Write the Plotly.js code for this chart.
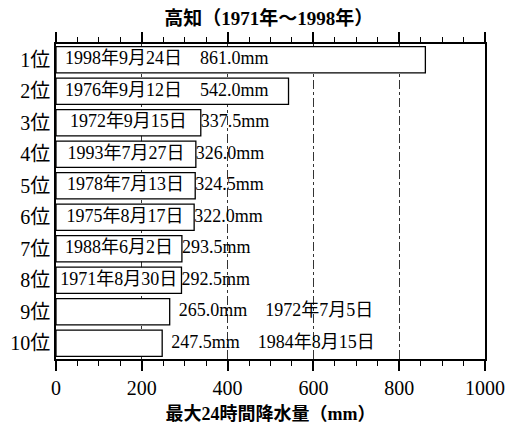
<!DOCTYPE html>
<html>
<head>
<meta charset="utf-8">
<script src="https://cdn.plot.ly/plotly-3.0.1.min.js"></script>
<style>html,body{margin:0;padding:0;background:#fff;}#chart{width:507px;height:430px;}</style>
</head>
<body>
<div id="chart"></div>
<script>
const ranks = ['1位','2位','3位','4位','5位','6位','7位','8位','9位','10位'];
const values = [861.0, 542.0, 337.5, 326.0, 324.5, 322.0, 293.5, 292.5, 265.0, 247.5];
const dates = ['1998年9月24日','1976年9月12日','1972年9月15日','1993年7月27日','1978年7月13日',
               '1975年8月17日','1988年6月2日','1971年8月30日','1972年7月5日','1984年8月15日'];
const xRange = [0, 1000];
const xMajorStep = 200;
const xMinorStep = 50;
const titleText = '高知（1971年～1998年）';
const xTitle = '最大24時間降水量（mm）';

const FONT = '"Liberation Serif", "Noto Sans CJK JP", serif';
const fmt = v => v.toFixed(1) + 'mm';
const tf = {family: FONT, size: 18, color: '#000'};

// label groups (derived from the data arrays)
const idxInside = [0, 1];                 // date + value inside the bar
const idxMid = [2, 3, 4, 5, 6, 7];        // date inside, value outside
const idxOut = [8, 9];                    // value and date outside

const textTrace = (xs, ys, texts, pos) => ({
  type: 'scatter', mode: 'text', x: xs, y: ys, text: texts, textposition: pos,
  textfont: tf, cliponaxis: false, hoverinfo: 'skip', showlegend: false
});

const traces = [
  {type: 'bar', orientation: 'h', x: values, y: ranks,
   marker: {color: '#fff', line: {color: '#000', width: 1.3}},
   hoverinfo: 'skip', showlegend: false},
  textTrace(idxInside.map(() => 0), idxInside.map(i => ranks[i]),
            idxInside.map(i => '\u2002' + dates[i] + '　' + fmt(values[i])), 'middle right'),
  textTrace(idxMid.map(i => values[i] / 2), idxMid.map(i => ranks[i]),
            idxMid.map(i => dates[i]), 'middle center'),
  textTrace(idxMid.map(i => values[i]), idxMid.map(i => ranks[i]),
            idxMid.map(i => fmt(values[i])), 'middle right'),
  textTrace(idxOut.map(i => values[i]), idxOut.map(i => ranks[i]),
            idxOut.map(i => '\u2002' + fmt(values[i]) + '　' + dates[i]), 'middle right')
];

const layout = {
  width: 507, height: 430,
  margin: {l: 56, r: 22, t: 44, b: 71},
  paper_bgcolor: '#fff', plot_bgcolor: '#fff',
  bargap: 0.17,
  showlegend: false,
  title: {text: '<b>' + titleText + '</b>', font: {family: FONT, size: 19, color: '#000'},
          x: 0.53, xanchor: 'center', y: 0.958, yanchor: 'middle'},
  xaxis: {range: xRange, dtick: xMajorStep,
          ticks: 'outside', ticklen: 10, tickwidth: 1.5, tickcolor: '#000',
          minor: {dtick: xMinorStep, ticks: 'outside', ticklen: 5, tickcolor: '#000', tickwidth: 1, showgrid: false},
          showline: true, mirror: 'ticks', linecolor: '#000', linewidth: 1.5,
          showgrid: true, gridcolor: '#333', griddash: 'dashdot', gridwidth: 1,
          zeroline: false,
          tickfont: {family: FONT, size: 20, color: '#000'},
          title: {text: '<b>' + xTitle + '</b>', font: {family: FONT, size: 18, color: '#000'}, standoff: 10}},
  yaxis: {type: 'category', autorange: 'reversed', showline: true, mirror: true,
          linecolor: '#000', linewidth: 1.5, ticks: '', showgrid: false, zeroline: false,
          tickfont: {family: FONT, size: 20, color: '#000'}}
};

Plotly.newPlot('chart', traces, layout, {displayModeBar: false});
</script>
</body>
</html>
